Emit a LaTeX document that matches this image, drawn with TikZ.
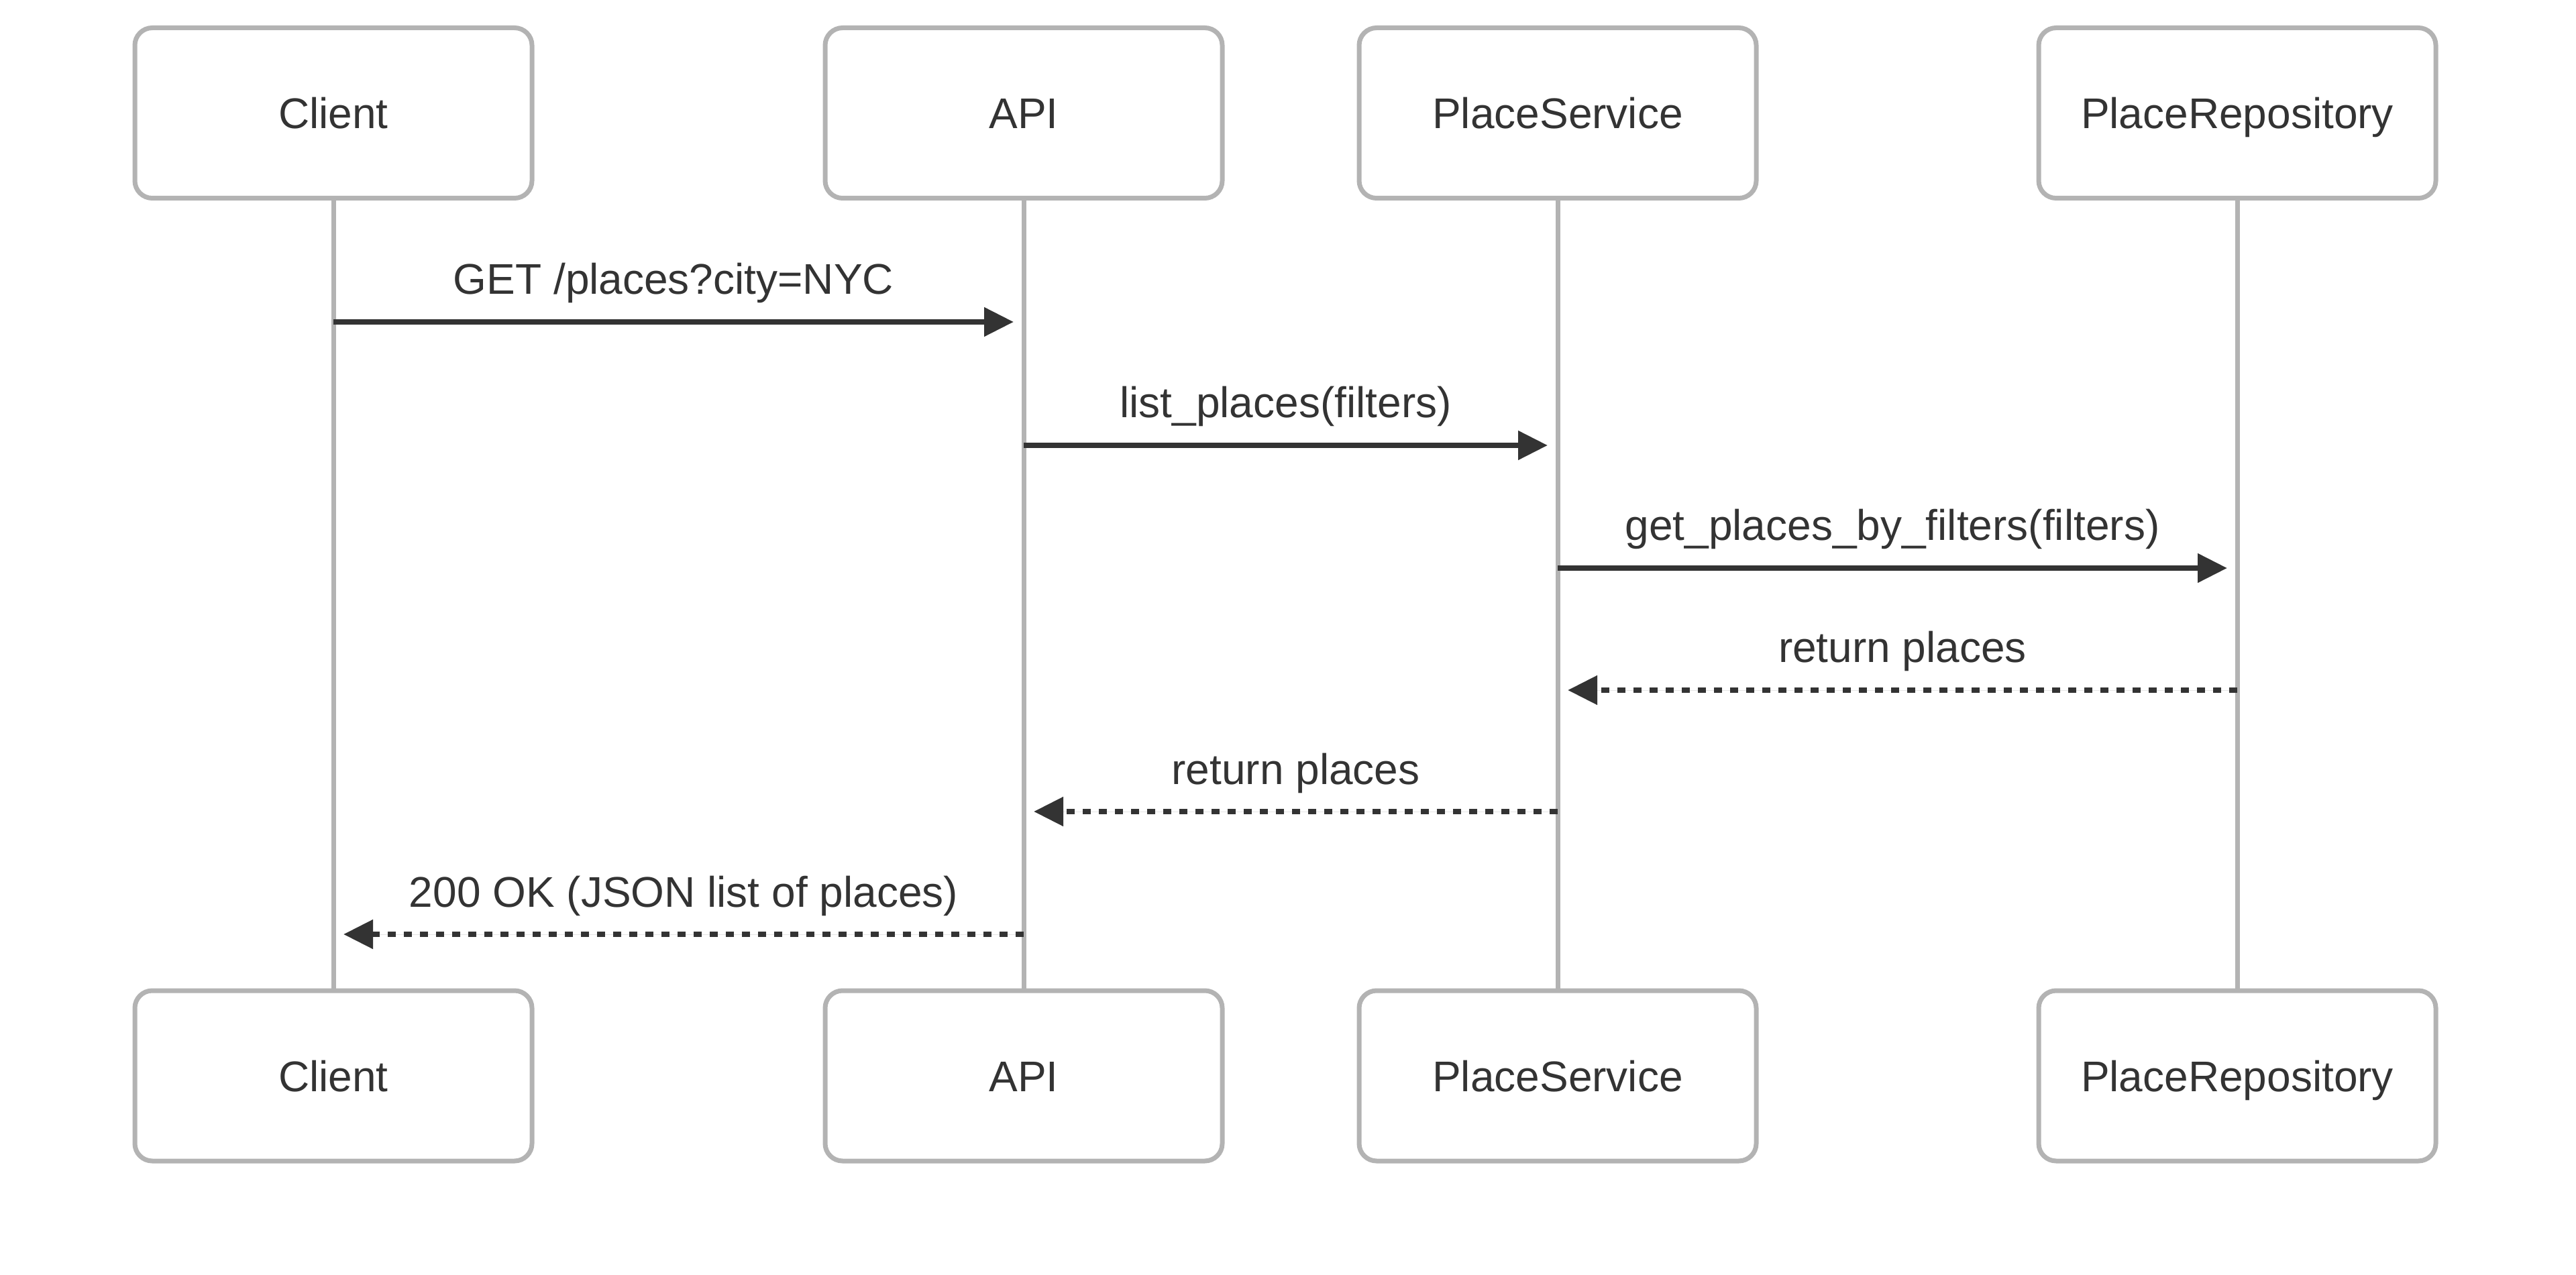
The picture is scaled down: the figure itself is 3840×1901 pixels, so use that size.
\documentclass[tikz,border=0pt]{standalone}
\usepackage{fontspec}
\setmainfont{Liberation Sans}
\usetikzlibrary{arrows.meta}
\definecolor{inkc}{HTML}{333333}
\definecolor{edgec}{HTML}{B3B3B3}
\begin{document}
\begin{tikzpicture}[x=0.25pt,y=-0.25pt,
  actor/.style={draw=edgec, line width=1.75pt, fill=white, rounded corners=6.5pt,
    minimum width=148pt, minimum height=63.5pt, inner sep=0pt,
    text height=11.5pt, text depth=0pt, text=inkc,
    font=\fontsize{16pt}{19pt}\selectfont},
  lifeline/.style={draw=edgec, line width=1.75pt},
  msg/.style={draw=inkc, line width=2pt,
    -{Triangle[length=11pt,width=10.5pt]}, fill=inkc},
  reply/.style={msg, dash pattern=on 3pt off 3pt},
  lbl/.style={anchor=base, text=inkc, inner sep=0pt,
    font=\fontsize{16pt}{19pt}\selectfont, yshift=10.25pt}]
\useasboundingbox (0,0) rectangle (3840,1901);

% participants, top row
\node[actor] (ct) at (497,168.5)  {Client};
\node[actor] (at) at (1526,168.5) {API};
\node[actor] (st) at (2322,168.5) {PlaceService};
\node[actor] (rt) at (3335,168.5) {PlaceRepository};

% participants, bottom row
\node[actor] (cb) at (497,1604)  {Client};
\node[actor] (ab) at (1526,1604) {API};
\node[actor] (sb) at (2322,1604) {PlaceService};
\node[actor] (rb) at (3335,1604) {PlaceRepository};

% lifelines
\begin{scope}[on background layer/.style={}]
\draw[lifeline] (ct.south) -- (cb.north);
\draw[lifeline] (at.south) -- (ab.north);
\draw[lifeline] (st.south) -- (sb.north);
\draw[lifeline] (rt.south) -- (rb.north);
\end{scope}

% messages
\draw[msg] (ct.south |- 0,480) -- ([xshift=-3.75pt]at.south |- 0,480)
  node[lbl, midway] (m1) {GET /places?city=NYC};
\draw[msg] (at.south |- 0,664) -- ([xshift=-3.75pt]st.south |- 0,664)
  node[lbl, midway] (m2) {list\_places(filters)};
\draw[msg] (st.south |- 0,847) -- ([xshift=-3.75pt]rt.south |- 0,847)
  node[lbl, midway] (m3) {get\_places\_by\_filters(filters)};
\draw[reply] (rt.south |- 0,1029) -- ([xshift=3.75pt]st.south |- 0,1029)
  node[lbl, midway] (m4) {return places};
\draw[reply] (st.south |- 0,1210) -- ([xshift=3.75pt]at.south |- 0,1210)
  node[lbl, midway] (m5) {return places};
\draw[reply] (at.south |- 0,1393) -- ([xshift=3.75pt]ct.south |- 0,1393)
  node[lbl, midway] (m6) {200 OK (JSON list of places)};
\end{tikzpicture}
\end{document}
